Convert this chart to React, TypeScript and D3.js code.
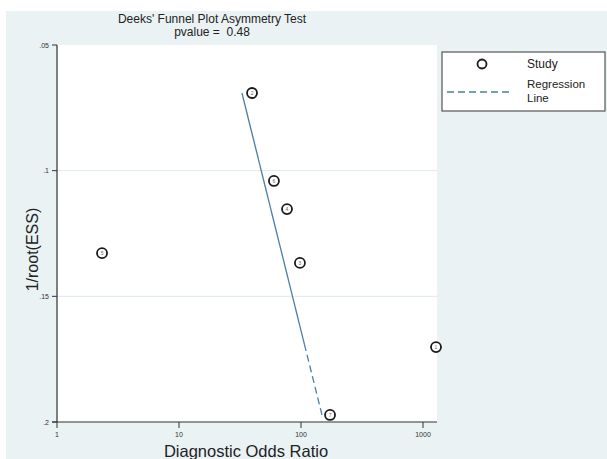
import React from "react";
import * as d3 from "d3";

const studyLabels = ["1", "2", "3", "4", "5", "6", "7"];
const dorValues = [1278, 39.7, 98, 76.8, 2.34, 60, 173];
const invRootEss = [0.1702, 0.0691, 0.1367, 0.1153, 0.1328, 0.1041, 0.1972];
const regLineDor = [32.8, 148.6];
const regLineY = [0.0691, 0.1972];
const yTicks = [0.05, 0.1, 0.15, 0.2];
const yTickLabels = [".05", ".1", ".15", ".2"];
const xTicks = [1, 10, 100, 1000];
const xTickLabels = ["1", "10", "100", "1000"];

const W = 607;
const H = 459;
const FONT = "'Liberation Sans', Arial, sans-serif";

export default function App() {
  const x = d3.scaleLog().domain([1, 1000]).range([57, 423]);
  const y = d3.scaleLinear().domain([0.05, 0.2]).range([45, 422]);
  const xMax = x.invert(437);
  const left = x(1);
  const right = x(xMax);
  const top = y(0.05);
  const bottom = y(0.2);

  // regression line split: solid upper part, dashed lower part
  const split = 0.78;
  const lx0 = Math.log10(regLineDor[0]);
  const lx1 = Math.log10(regLineDor[1]);
  const midDor = Math.pow(10, lx0 + (lx1 - lx0) * split);
  const midY = regLineY[0] + (regLineY[1] - regLineY[0]) * split;

  return (
    <svg
      width={W}
      height={H}
      style={{ position: "absolute", left: 0, top: 0, display: "block" }}
      fontFamily={FONT}
    >
      <rect x={0} y={0} width={W} height={H} fill="#ffffff" />
      <rect x={6} y={11} width={W - 6} height={H - 11} fill="#eaf2f4" />
      <rect x={left + 1} y={top} width={right - left - 1} height={bottom - top} fill="#ffffff" />

      {/* gridlines */}
      {yTicks.slice(1, 3).map((t) => (
        <line key={t} x1={left + 1} x2={right} y1={y(t)} y2={y(t)} stroke="#dce9f0" strokeWidth={1} />
      ))}

      {/* axes */}
      <line x1={left} x2={left} y1={top} y2={bottom} stroke="#333" strokeWidth={1.2} />
      <line x1={left - 5} x2={right} y1={bottom} y2={bottom} stroke="#333" strokeWidth={1.2} />
      {yTicks.map((t, i) => (
        <g key={t}>
          <line x1={left - 5} x2={left} y1={y(t)} y2={y(t)} stroke="#333" strokeWidth={1} />
          <text x={left - 8} y={y(t) + 2.5} fontSize={7} textAnchor="end" fill="#333">
            {yTickLabels[i]}
          </text>
        </g>
      ))}
      {xTicks.map((t, i) => (
        <g key={t}>
          <line x1={x(t)} x2={x(t)} y1={bottom} y2={bottom + 6} stroke="#333" strokeWidth={1} />
          <text x={x(t)} y={bottom + 15} fontSize={7} textAnchor="middle" fill="#333">
            {xTickLabels[i]}
          </text>
        </g>
      ))}

      {/* regression line */}
      <line
        x1={x(regLineDor[0])}
        y1={y(regLineY[0])}
        x2={x(midDor)}
        y2={y(midY)}
        stroke="#4a7fa8"
        strokeWidth={1.3}
      />
      <line
        x1={x(midDor)}
        y1={y(midY)}
        x2={x(regLineDor[1])}
        y2={y(regLineY[1])}
        stroke="#4a7fa8"
        strokeWidth={1.3}
        strokeDasharray="7 4"
      />

      {/* points */}
      {dorValues.map((d, i) => (
        <g key={i}>
          <circle cx={x(d)} cy={y(invRootEss[i])} r={5} fill="#ffffff" stroke="#1a1a1a" strokeWidth={1.8} />
          <text x={x(d)} y={y(invRootEss[i]) + 2} fontSize={5} textAnchor="middle" fill="#666">
            {studyLabels[i]}
          </text>
        </g>
      ))}

      {/* titles */}
      <text x={212} y={23} fontSize={12} textAnchor="middle" fill="#222">
        Deeks' Funnel Plot Asymmetry Test
      </text>
      <text x={212} y={36} fontSize={12} textAnchor="middle" fill="#222" style={{ whiteSpace: "pre" }}>
        {"pvalue =  0.48"}
      </text>
      <text
        transform={`translate(38,${(top + bottom) / 2 + 16}) rotate(-90)`}
        fontSize={16}
        textAnchor="middle"
        fill="#222"
      >
        1/root(ESS)
      </text>
      <text x={246} y={457} fontSize={16.5} textAnchor="middle" fill="#222">
        Diagnostic Odds Ratio
      </text>

      {/* legend */}
      <rect x={442} y={52} width={163} height={59} fill="#ffffff" stroke="#555" strokeWidth={1.2} />
      <circle cx={482} cy={64} r={4.5} fill="#ffffff" stroke="#1a1a1a" strokeWidth={1.8} />
      <text x={527} y={68} fontSize={12} fill="#222">Study</text>
      <line x1={447} x2={513} y1={92} y2={92} stroke="#4a7fa8" strokeWidth={1.3} strokeDasharray="7 4" />
      <text x={527} y={88} fontSize={11.5} fill="#222">Regression</text>
      <text x={527} y={102} fontSize={11.5} fill="#222">Line</text>
    </svg>
  );
}
